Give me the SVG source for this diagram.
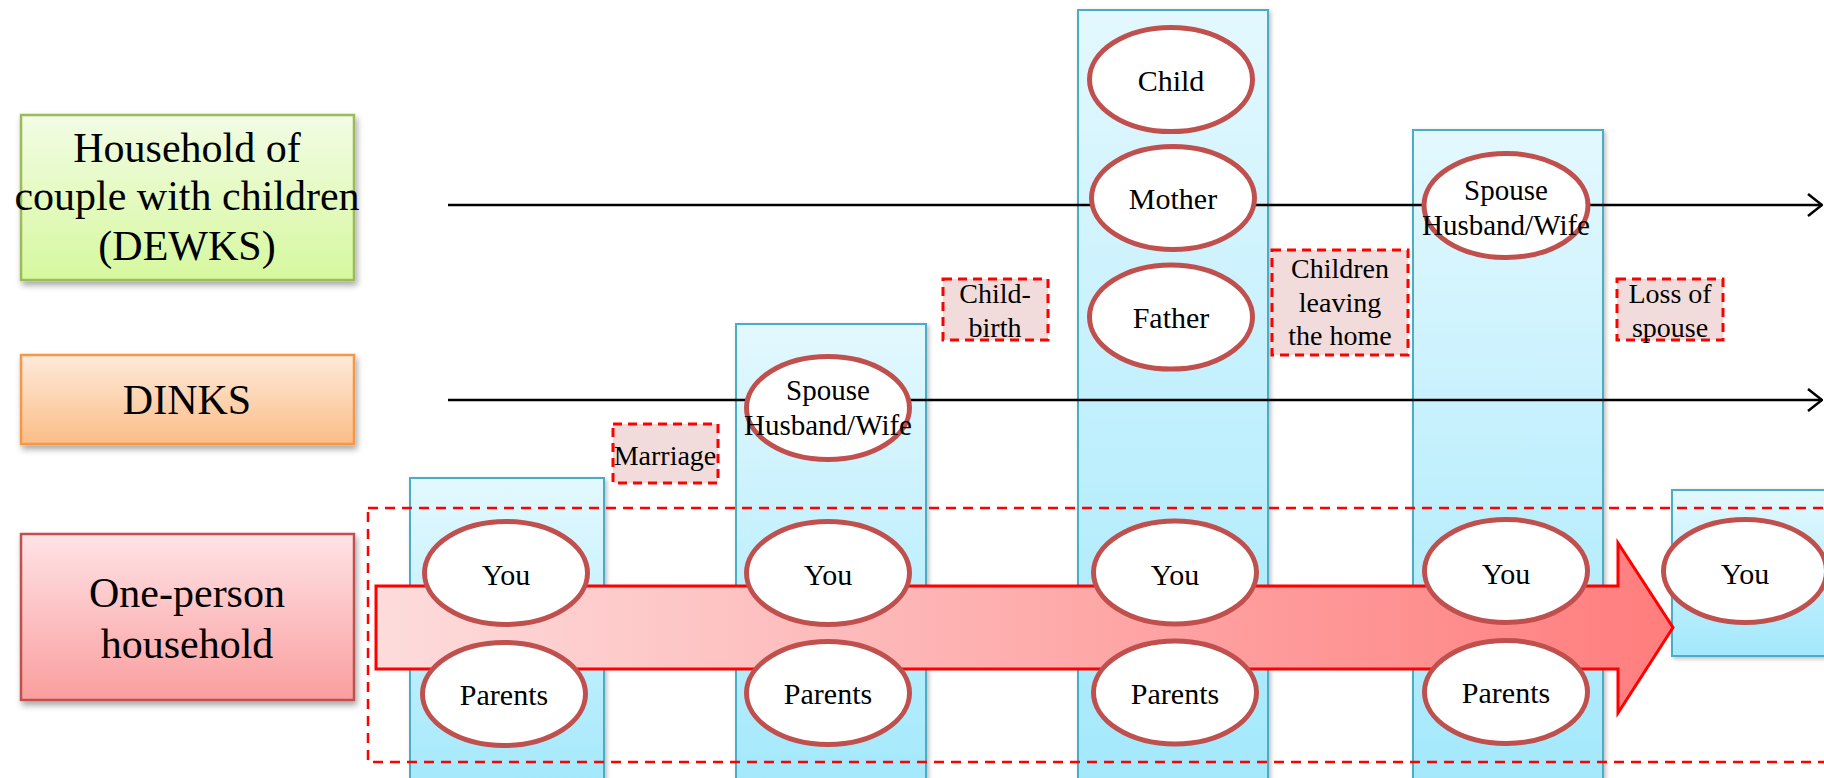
<svg xmlns="http://www.w3.org/2000/svg" width="1824" height="778" viewBox="0 0 1824 778">
  <defs>
    <linearGradient id="gCol" x1="0" y1="0" x2="0" y2="1">
      <stop offset="0" stop-color="#e3f8fe"/>
      <stop offset="1" stop-color="#a3e8fc"/>
    </linearGradient>
    <linearGradient id="gGreen" x1="0" y1="0" x2="0" y2="1">
      <stop offset="0" stop-color="#f2fce4"/>
      <stop offset="1" stop-color="#d6f89e"/>
    </linearGradient>
    <linearGradient id="gOrange" x1="0" y1="0" x2="0" y2="1">
      <stop offset="0" stop-color="#feeadb"/>
      <stop offset="1" stop-color="#fbbd86"/>
    </linearGradient>
    <linearGradient id="gPink" x1="0" y1="0" x2="0" y2="1">
      <stop offset="0" stop-color="#ffe3e6"/>
      <stop offset="1" stop-color="#fa9e9e"/>
    </linearGradient>
    <linearGradient id="gArrow" x1="0" y1="0" x2="1" y2="0">
      <stop offset="0" stop-color="#fddcdc"/>
      <stop offset="1" stop-color="#ff7d7d"/>
    </linearGradient>
    <filter id="shadow" x="-10%" y="-10%" width="125%" height="130%">
      <feDropShadow dx="2" dy="4" stdDeviation="3" flood-color="#000" flood-opacity="0.35"/>
    </filter>
    <filter id="softShadow" x="-10%" y="-10%" width="125%" height="130%">
      <feDropShadow dx="2" dy="2" stdDeviation="2" flood-color="#000" flood-opacity="0.25"/>
    </filter>
    <marker id="chev" viewBox="0 0 16 24" refX="15" refY="12" markerWidth="16" markerHeight="24" markerUnits="userSpaceOnUse" orient="auto">
      <path d="M1,1 L15,12 L1,23" fill="none" stroke="#000" stroke-width="2.5"/>
    </marker>
    <style>
      .col { fill: url(#gCol); stroke: #4bacc6; stroke-width: 2; filter: url(#softShadow); }
      .person { fill: #fff; stroke: #c0504d; stroke-width: 5; }
      .label { fill: #f2dcdb; stroke: #ff0000; stroke-width: 3; stroke-dasharray: 9 6; }
      .txt { font-family: "Liberation Serif", "Times New Roman", serif; fill: #000; text-anchor: middle; }
      .big { font-size: 42px; }
      .p30 { font-size: 30px; }
      .p29 { font-size: 29px; }
      .p28 { font-size: 28px; }
      .line { stroke: #000; stroke-width: 2.5; fill: none; }
    </style>
  </defs>

  <rect width="1824" height="778" fill="#fff"/>

  <!-- life-stage columns -->
  <g id="columns">
    <rect class="col" x="410" y="478" width="194" height="310"/>
    <rect class="col" x="736" y="324" width="190" height="464"/>
    <rect class="col" x="1078" y="10" width="190" height="778"/>
    <rect class="col" x="1413" y="130" width="190" height="658"/>
    <rect class="col" x="1672" y="490" width="160" height="166"/>
  </g>

  <!-- household type boxes -->
  <g id="dewks">
    <rect x="21" y="115" width="333" height="165" fill="url(#gGreen)" stroke="#9bbb59" stroke-width="2.5" filter="url(#shadow)"/>
    <text class="txt big" x="187" y="162">Household of</text>
    <text class="txt big" x="187" y="210">couple with children</text>
    <text class="txt big" x="187" y="260">(DEWKS)</text>
  </g>
  <g id="dinks">
    <rect x="21" y="355" width="333" height="89" fill="url(#gOrange)" stroke="#f79646" stroke-width="2.5" filter="url(#shadow)"/>
    <text class="txt big" x="187" y="414">DINKS</text>
  </g>
  <g id="one-person">
    <rect x="21" y="534" width="333" height="166" fill="url(#gPink)" stroke="#c0504d" stroke-width="2.5" filter="url(#shadow)"/>
    <text class="txt big" x="187" y="607">One-person</text>
    <text class="txt big" x="187" y="658">household</text>
  </g>

  <!-- timelines -->
  <g id="connectors">
    <line class="line" x1="448" y1="205" x2="1822" y2="205" marker-end="url(#chev)"/>
    <line class="line" x1="448" y1="400" x2="1822" y2="400" marker-end="url(#chev)"/>
  </g>

  <!-- single-person band and progression arrow -->
  <g id="single-band">
    <rect x="368" y="508" width="1470" height="254" fill="none" stroke="#ff0000" stroke-width="2.5" stroke-dasharray="10 7"/>
    <path d="M376,586 H1618 V543 L1673,627.5 L1618,713 V669 H376 Z" fill="url(#gArrow)" stroke="#ff0000" stroke-width="3"/>
  </g>

  <!-- life events -->
  <g id="event-marriage">
    <rect class="label" x="613" y="424" width="105" height="59"/>
    <text class="txt p28" x="665" y="465">Marriage</text>
  </g>
  <g id="event-childbirth">
    <rect class="label" x="943" y="279" width="105" height="61"/>
    <text class="txt p28" x="995" y="303">Child-</text>
    <text class="txt p28" x="995" y="337">birth</text>
  </g>
  <g id="event-leaving">
    <rect class="label" x="1272" y="250" width="136" height="105"/>
    <text class="txt p28" x="1340" y="278">Children</text>
    <text class="txt p28" x="1340" y="312">leaving</text>
    <text class="txt p28" x="1340" y="345">the home</text>
  </g>
  <g id="event-loss">
    <rect class="label" x="1617" y="279" width="106" height="61"/>
    <text class="txt p28" x="1670" y="303">Loss of</text>
    <text class="txt p28" x="1670" y="337">spouse</text>
  </g>

  <!-- stage 1 -->
  <g id="s1-you">
    <ellipse class="person" cx="506" cy="573" rx="81.5" ry="51.5"/>
    <text class="txt p30" x="506" y="585">You</text>
  </g>
  <g id="s1-parents">
    <ellipse class="person" cx="504" cy="694" rx="81.5" ry="51.5"/>
    <text class="txt p30" x="504" y="705">Parents</text>
  </g>

  <!-- stage 2 -->
  <g id="s2-spouse">
    <ellipse class="person" cx="828" cy="408" rx="81.5" ry="51.5"/>
    <text class="txt p29" x="828" y="400">Spouse</text>
    <text class="txt p29" x="828" y="435">Husband/Wife</text>
  </g>
  <g id="s2-you">
    <ellipse class="person" cx="828" cy="573" rx="81.5" ry="51.5"/>
    <text class="txt p30" x="828" y="585">You</text>
  </g>
  <g id="s2-parents">
    <ellipse class="person" cx="828" cy="693" rx="81.5" ry="51.5"/>
    <text class="txt p30" x="828" y="704">Parents</text>
  </g>

  <!-- stage 3 -->
  <g id="s3-child">
    <ellipse class="person" cx="1171" cy="79.5" rx="81.5" ry="52"/>
    <text class="txt p30" x="1171" y="91">Child</text>
  </g>
  <g id="s3-mother">
    <ellipse class="person" cx="1173" cy="198" rx="81.5" ry="51.5"/>
    <text class="txt p30" x="1173" y="209">Mother</text>
  </g>
  <g id="s3-father">
    <ellipse class="person" cx="1171" cy="317" rx="81.5" ry="52"/>
    <text class="txt p30" x="1171" y="328">Father</text>
  </g>
  <g id="s3-you">
    <ellipse class="person" cx="1175" cy="572.5" rx="81.5" ry="51.5"/>
    <text class="txt p30" x="1175" y="585">You</text>
  </g>
  <g id="s3-parents">
    <ellipse class="person" cx="1175" cy="692.5" rx="81.5" ry="51.5"/>
    <text class="txt p30" x="1175" y="704">Parents</text>
  </g>

  <!-- stage 4 -->
  <g id="s4-spouse">
    <ellipse class="person" cx="1506" cy="205.5" rx="82" ry="52"/>
    <text class="txt p29" x="1506" y="200">Spouse</text>
    <text class="txt p29" x="1506" y="235">Husband/Wife</text>
  </g>
  <g id="s4-you">
    <ellipse class="person" cx="1506" cy="571" rx="81.5" ry="51.5"/>
    <text class="txt p30" x="1506" y="584">You</text>
  </g>
  <g id="s4-parents">
    <ellipse class="person" cx="1506" cy="692" rx="81.5" ry="51.5"/>
    <text class="txt p30" x="1506" y="703">Parents</text>
  </g>

  <!-- stage 5 -->
  <g id="s5-you">
    <ellipse class="person" cx="1745" cy="571" rx="81.5" ry="51.5"/>
    <text class="txt p30" x="1745" y="584">You</text>
  </g>
</svg>
